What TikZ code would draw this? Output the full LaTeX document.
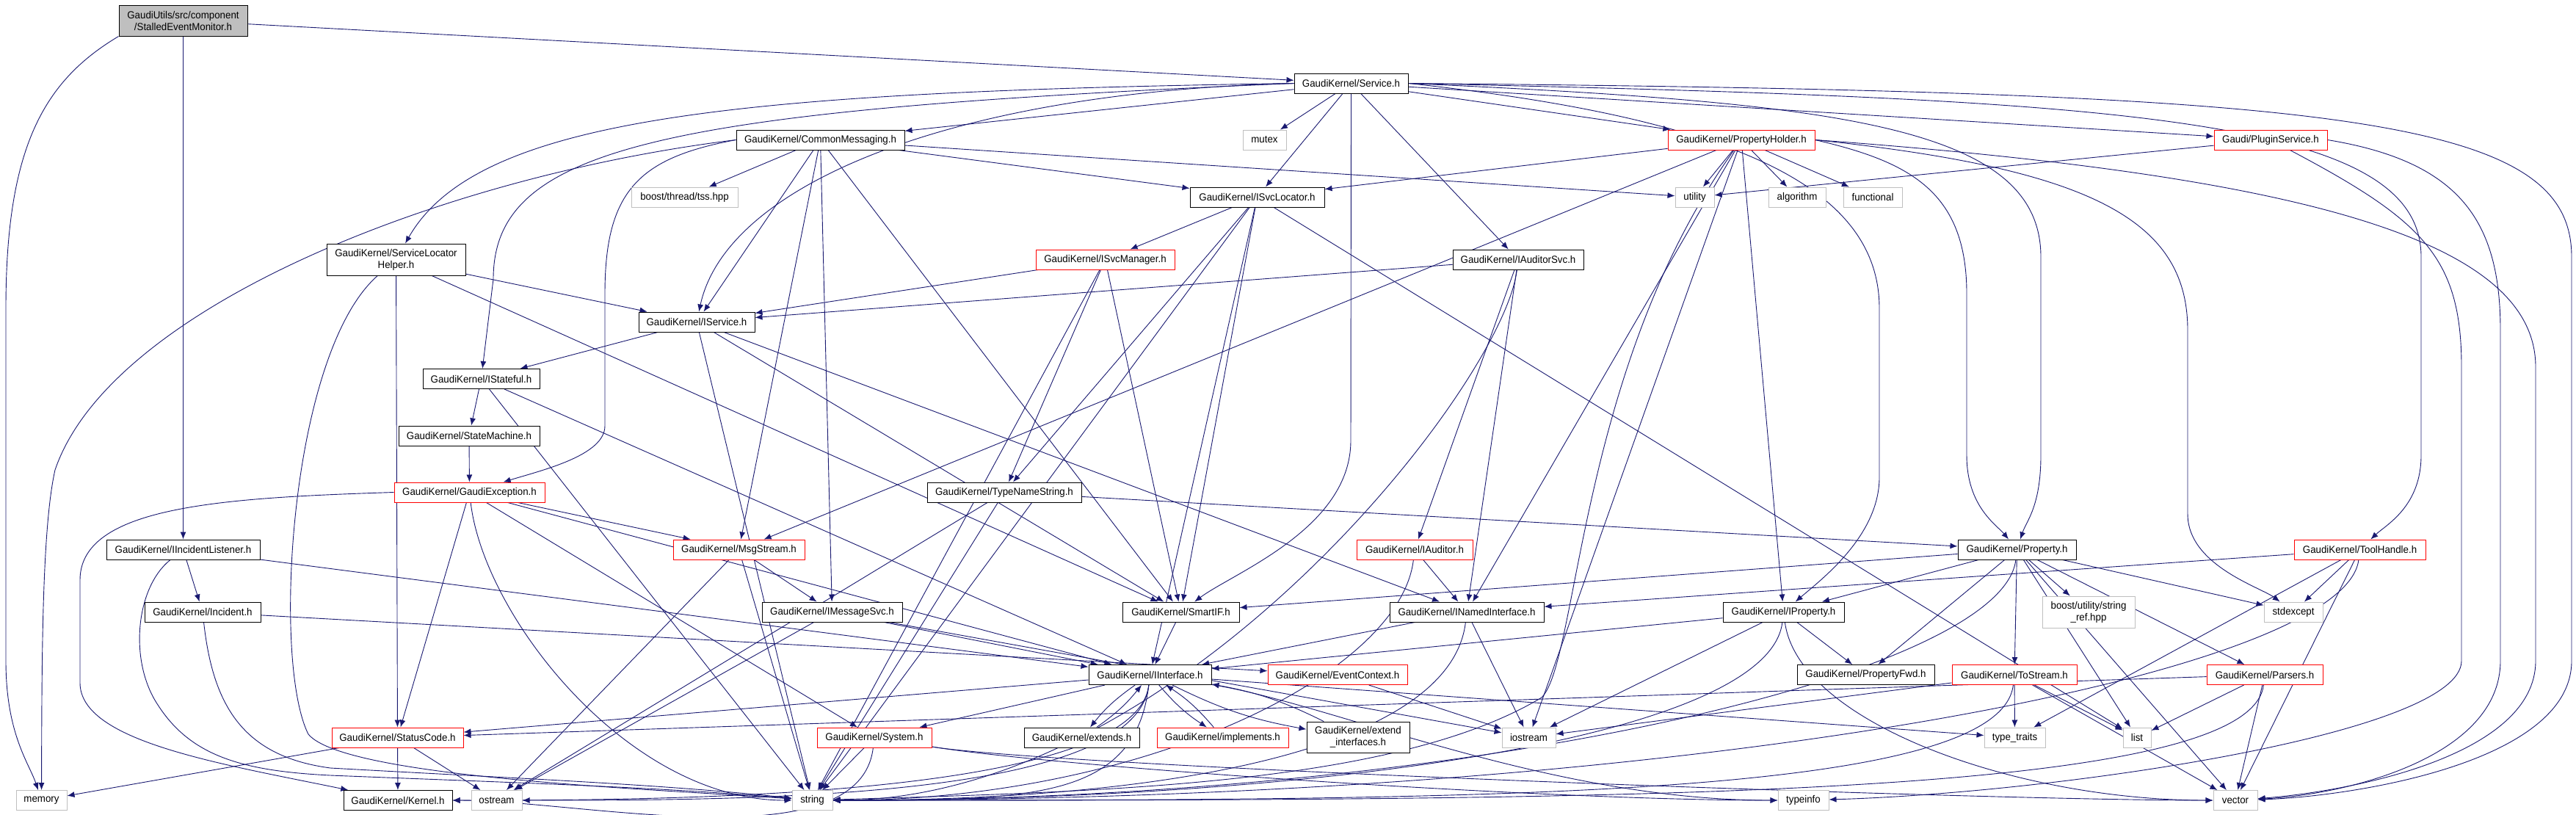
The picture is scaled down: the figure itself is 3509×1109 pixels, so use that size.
\documentclass[tikz,border=0pt]{standalone}
\usepackage{fontspec}
\newfontfamily\dgfont{Liberation Sans}[FakeStretch=0.95]
\usetikzlibrary{arrows.meta}
\definecolor{edgec}{HTML}{191970}
\definecolor{grayb}{HTML}{BFBFBF}
\pgfdeclarelayer{bg}
\pgfsetlayers{bg,main}
\newcommand\gn[6]{\node[#1, minimum width=#2pt, minimum height=#3pt] (#4) at (#5) {#6};}
% edge entering target from the right (#3 = horizontal pull), from the left, and along the bottom band
\newcommand\eR[3]{\draw[ed] (#1) .. controls +(-20,170) and +(#3,0) .. (#2);}
\newcommand\eL[3]{\draw[ed] (#1) .. controls +(20,170) and +(-#3,0) .. (#2);}
\newcommand\eB[2]{\draw[ed] (#1) .. controls +(250,40) and +(-350,0) .. (#2);}
\tikzset{
  box/.style={draw=black, line width=1pt, rectangle, inner sep=0pt, fill=white, align=center,
    font={\dgfont\fontsize{14}{16}\selectfont}},
  redbox/.style={box, draw=red},
  graybox/.style={box, draw=grayb},
  rootbox/.style={box, fill=grayb},
  ed/.style={draw=edgec, line width=0.9pt, -{Latex[length=10pt,width=8pt]}},
}
\begin{document}
\begin{tikzpicture}[x=1pt,y=-1pt]
\useasboundingbox (0,0) rectangle (3509,1109);
% nodes
\gn{rootbox}{175}{42}{root}{249.5,28}{GaudiUtils/src/component\\/StalledEventMonitor.h}
\gn{box}{155}{27}{service}{1840.5,113.5}{GaudiKernel/Service.h}
\gn{box}{229}{27}{commsg}{1117.5,190.5}{GaudiKernel/CommonMessaging.h}
\gn{graybox}{59}{27}{mutex}{1722.5,190.5}{mutex}
\gn{redbox}{200}{27}{propholder}{2372,190.5}{GaudiKernel/PropertyHolder.h}
\gn{redbox}{154}{27}{plugin}{3093,190.5}{Gaudi/PluginService.h}
\gn{graybox}{145}{27}{tss}{932.5,268.5}{boost/thread/tss.hpp}
\gn{box}{183}{27}{svcloc}{1712.5,268.5}{GaudiKernel/ISvcLocator.h}
\gn{graybox}{53}{27}{utility}{2308.5,268.5}{utility}
\gn{graybox}{78}{27}{algorithm}{2448,268.5}{algorithm}
\gn{graybox}{80}{27}{functional}{2551,268.5}{functional}
\gn{box}{189}{43}{slhelper}{539.5,353.5}{GaudiKernel/ServiceLocator\\Helper.h}
\gn{redbox}{189}{27}{svcmgr}{1505.5,353.5}{GaudiKernel/ISvcManager.h}
\gn{box}{178}{27}{auditorsvc}{2068,353.5}{GaudiKernel/IAuditorSvc.h}
\gn{box}{158}{27}{iservice}{949,438.5}{GaudiKernel/IService.h}
\gn{box}{159}{27}{istateful}{655.5,516}{GaudiKernel/IStateful.h}
\gn{box}{192}{27}{statemachine}{639,593.5}{GaudiKernel/StateMachine.h}
\gn{redbox}{205}{27}{gaudiexc}{639.5,670.5}{GaudiKernel/GaudiException.h}
\gn{box}{210}{27}{typename}{1368,670.5}{GaudiKernel/TypeNameString.h}
\gn{box}{209}{27}{incidentlistener}{249.5,748.5}{GaudiKernel/IIncidentListener.h}
\gn{redbox}{179}{27}{msgstream}{1006.5,748.5}{GaudiKernel/MsgStream.h}
\gn{redbox}{158}{27}{iauditor}{1927,748.5}{GaudiKernel/IAuditor.h}
\gn{box}{161}{27}{property}{2747.5,748.5}{GaudiKernel/Property.h}
\gn{redbox}{179}{27}{toolhandle}{3214.5,748.5}{GaudiKernel/ToolHandle.h}
\gn{box}{158}{27}{incident}{276,833.5}{GaudiKernel/Incident.h}
\gn{box}{191}{27}{imsgsvc}{1133.5,833.5}{GaudiKernel/IMessageSvc.h}
\gn{box}{159}{27}{smartif}{1608.5,833.5}{GaudiKernel/SmartIF.h}
\gn{box}{210}{27}{inamed}{1998,833.5}{GaudiKernel/INamedInterface.h}
\gn{box}{165}{27}{iproperty}{2429.5,833.5}{GaudiKernel/IProperty.h}
\gn{graybox}{126}{43}{stringref}{2845,833.5}{boost/utility/string\\\_ref.hpp}
\gn{graybox}{80}{27}{stdexcept}{3124,833.5}{stdexcept}
\gn{box}{167}{27}{iinterface}{1566.5,919}{GaudiKernel/IInterface.h}
\gn{redbox}{190}{27}{eventcontext}{1822,919}{GaudiKernel/EventContext.h}
\gn{box}{187}{27}{propfwd}{2541.5,919}{GaudiKernel/PropertyFwd.h}
\gn{redbox}{170}{27}{tostream}{2744,919}{GaudiKernel/ToStream.h}
\gn{redbox}{158}{27}{parsers}{3085,919}{GaudiKernel/Parsers.h}
\gn{redbox}{179}{27}{statuscode}{541.5,1004.5}{GaudiKernel/StatusCode.h}
\gn{redbox}{156}{27}{system}{1191,1004.5}{GaudiKernel/System.h}
\gn{box}{157}{27}{extends}{1473.5,1004.5}{GaudiKernel/extends.h}
\gn{redbox}{179}{27}{implements}{1665.5,1004.5}{GaudiKernel/implements.h}
\gn{box}{140}{42}{extendif}{1850,1004}{GaudiKernel/extend\\\_interfaces.h}
\gn{graybox}{73}{27}{iostream}{2082.5,1004.5}{iostream}
\gn{graybox}{83}{27}{typetraits}{2744.5,1004.5}{type\_traits}
\gn{graybox}{38}{27}{list}{2911,1004.5}{list}
\gn{graybox}{69}{27}{memory}{56.5,1090}{memory}
\gn{box}{148}{27}{kernel}{542,1090}{GaudiKernel/Kernel.h}
\gn{graybox}{69}{27}{ostream}{676.5,1090}{ostream}
\gn{graybox}{55}{27}{string}{1106.5,1090}{string}
\gn{graybox}{69}{27}{typeinfo}{2456.5,1090}{typeinfo}
\gn{graybox}{60}{27}{vector}{3045,1090}{vector}
% edges
\begin{pgfonlayer}{bg}
\draw[ed] (root) -- (service);
\draw[ed] (root) -- (incidentlistener);
\draw[ed] (root.south west) .. controls (60,110) and (8,200) .. (8,420) -- (8,900) .. controls (8,1000) and (40,1040) .. (memory);
% Service.h
\draw[ed] (service) -- (commsg);
\draw[ed] (service) -- (mutex);
\draw[ed] (service) -- (propholder);
\draw[ed] (service) -- (plugin);
\draw[ed] (service) -- (svcloc);
\draw[ed] (service) -- (auditorsvc);
\draw[ed] (service.west) .. controls (1300,125) and (990,250) .. (iservice);
\draw[ed] (service.west) .. controls (900,150) and (672,200) .. (672,380) -- (istateful);
\draw[ed] (service.west) .. controls (1000,125) and (650,160) .. (slhelper);
\draw[ed] (service.south) -- (1840,600) .. controls (1840,720) and (1680,780) .. (smartif);
\draw[ed] (service.east) .. controls (2500,140) and (2780,170) .. (2780,350) -- (2780,620) .. controls (2780,690) and (2760,710) .. (property);
\draw[ed] (service.east) .. controls (2350,160) and (2560,250) .. (2560,420) -- (2560,650) .. controls (2560,730) and (2480,790) .. (iproperty);
\draw[ed] (service.east) .. controls (2900,135) and (3298,160) .. (3298,350) -- (3298,620) .. controls (3298,690) and (3250,715) .. (toolhandle);
\draw[ed] (service.east) .. controls (3200,125) and (3503,160) .. (3503,350) -- (3503,900) .. controls (3503,1040) and (3200,1085) .. (vector);
% CommonMessaging.h
\draw[ed] (commsg) -- (tss);
\draw[ed] (commsg) -- (svcloc);
\draw[ed] (commsg) -- (utility);
\draw[ed] (commsg) -- (iservice);
\draw[ed] (commsg.west) .. controls (870,215) and (824,260) .. (824,400) -- (824,580) .. controls (824,620) and (740,640) .. (gaudiexc);
\draw[ed] (commsg.west) .. controls (600,240) and (150,420) .. (75,640) .. controls (57,720) and (57,900) .. (memory);
\draw[ed] (commsg) -- (msgstream);
\draw[ed] (commsg) -- (imsgsvc);
\draw[ed] (commsg) -- (smartif);
% PropertyHolder.h
\draw[ed] (propholder) -- (svcloc);
\draw[ed] (propholder) -- (utility);
\draw[ed] (propholder) -- (algorithm);
\draw[ed] (propholder) -- (functional);
\draw[ed] (propholder) -- (iproperty);
\draw[ed] (propholder.east) .. controls (2600,220) and (2679,260) .. (2679,400) -- (2679,620) .. controls (2679,690) and (2720,715) .. (property);
\draw[ed] (propholder.east) .. controls (2850,230) and (2980,300) .. (2980,450) -- (2980,700) .. controls (2980,770) and (3080,800) .. (stdexcept);
\draw[ed] (propholder) -- (msgstream);
\draw[ed] (propholder) .. controls (2150,500) and (2150,900) .. (2100,950) .. controls (1900,1070) and (1500,1078) .. (string);
\draw[ed] (propholder) -- (iostream);
\draw[ed] (propholder.east) .. controls (3150,240) and (3454,330) .. (3454,500) -- (3454,900) .. controls (3454,1030) and (3200,1078) .. (vector);
\draw[ed] (propholder) -- (inamed);
% PluginService.h
\draw[ed] (plugin) -- (utility);
\draw[ed] (plugin) .. controls (3300,300) and (3353,350) .. (3353,500) -- (3353,900) .. controls (3353,1000) and (2800,1080) .. (typeinfo);
\draw[ed] (plugin.east) .. controls (3350,220) and (3406,300) .. (3406,450) -- (3406,900) .. controls (3406,1030) and (3200,1082) .. (vector);
% ISvcLocator.h
\draw[ed] (svcloc) -- (svcmgr);
\draw[ed] (svcloc) -- (typename);
\draw[ed] (svcloc) -- (smartif);
\draw[ed] (svcloc) -- (iinterface);
\draw[ed] (svcloc) -- (string);
\draw[ed] (svcloc) -- (list);
% ServiceLocatorHelper.h
\draw[ed] (slhelper) -- (iservice);
\draw[ed] (slhelper) -- (smartif);
\draw[ed] (slhelper) -- (statuscode);
\draw[ed] (slhelper) .. controls (395,480) and (370,900) .. (420,1000) .. controls (470,1060) and (900,1075) .. (string);
% ISvcManager.h
\draw[ed] (svcmgr) -- (iservice);
\draw[ed] (svcmgr) -- (typename);
\draw[ed] (svcmgr) -- (smartif);
\draw[ed] (svcmgr) -- (string);
% IAuditorSvc.h
\draw[ed] (auditorsvc) -- (iservice);
\draw[ed] (auditorsvc) -- (iauditor);
\draw[ed] (auditorsvc) -- (inamed);
\eR{auditorsvc}{string}{500}
% IService.h
\draw[ed] (iservice) -- (istateful);
\draw[ed] (iservice) -- (inamed);
\draw[ed] (iservice) -- (smartif);
\draw[ed] (iservice) -- (string);
% IStateful.h, StateMachine.h
\draw[ed] (istateful) -- (statemachine);
\draw[ed] (istateful) -- (iinterface);
\draw[ed] (istateful) -- (string);
\draw[ed] (statemachine) -- (gaudiexc);
% GaudiException.h
\draw[ed] (gaudiexc.west) .. controls (300,678) and (109,690) .. (109,790) -- (109,930) .. controls (109,1010) and (300,1040) .. (kernel);
\draw[ed] (gaudiexc) -- (msgstream);
\draw[ed] (gaudiexc) -- (statuscode);
\eL{gaudiexc}{string}{250}
\draw[ed] (gaudiexc) -- (system);
\draw[ed] (gaudiexc) -- (iinterface);
% TypeNameString.h
\draw[ed] (typename) -- (property);
\draw[ed] (typename) -- (string);
\draw[ed] (typename) -- (ostream);
% IIncidentListener.h, Incident.h
\draw[ed] (incidentlistener) -- (incident);
\draw[ed] (incidentlistener) -- (iinterface);
\draw[ed] (incidentlistener) .. controls (185,800) and (175,900) .. (215,960) .. controls (260,1030) and (330,1050) .. (450,1056) .. controls (700,1066) and (900,1072) .. (string);
\draw[ed] (incident) -- (eventcontext);
\draw[ed] (incident) .. controls (290,960) and (330,1030) .. (450,1046) .. controls (700,1060) and (900,1068) .. (string);
% MsgStream.h, IMessageSvc.h
\draw[ed] (msgstream) -- (imsgsvc);
\draw[ed] (msgstream) -- (string);
\draw[ed] (msgstream) -- (ostream);
\draw[ed] (imsgsvc) -- (iinterface);
\draw[ed] (imsgsvc) -- (iostream);
\draw[ed] (imsgsvc) -- (ostream);
% IAuditor.h
\draw[ed] (iauditor) -- (inamed);
\eR{iauditor}{string}{450}
% Property.h
\draw[ed] (property) -- (iproperty);
\draw[ed] (property) -- (smartif);
\draw[ed] (property) -- (tostream);
\draw[ed] (property) -- (list);
\draw[ed] (property) -- (stringref);
\draw[ed] (property) -- (parsers);
\draw[ed] (property) -- (stdexcept);
\draw[ed] (property) -- (propfwd);
\eR{property}{string}{900}
\draw[ed] (property) -- (vector);
% IProperty.h
\draw[ed] (iproperty) -- (propfwd);
\draw[ed] (iproperty) -- (iinterface);
\draw[ed] (iproperty) -- (iostream);
\eR{iproperty}{string}{700}
\draw[ed] (iproperty) .. controls +(20,150) and +(-300,0) .. (vector);
% INamedInterface.h, EventContext.h
\draw[ed] (inamed) -- (iinterface);
\draw[ed] (inamed) -- (iostream);
\eR{inamed}{string}{550}
\draw[ed] (eventcontext) -- (iostream);
% ToStream.h, Parsers.h
\draw[ed] (tostream) -- (typetraits);
\draw[ed] (tostream) -- (list);
\draw[ed] (tostream) -- (vector);
\eR{tostream}{string}{900}
\draw[ed] (tostream) -- (iostream);
\draw[ed] (parsers) -- (list);
\draw[ed] (parsers) -- (vector);
\draw[ed] (parsers) -- (statuscode);
\eR{parsers}{string}{1100}
% ToolHandle.h
\draw[ed] (toolhandle) -- (inamed);
\draw[ed] (toolhandle) -- (stdexcept);
\draw[ed] (toolhandle) -- (typetraits);
\eR{toolhandle}{string}{1200}
\draw[ed] (toolhandle) -- (vector);
% SmartIF.h
\draw[ed] (smartif) -- (iinterface);
% IInterface.h
\draw[ed] (iinterface) -- (statuscode);
\draw[ed] (iinterface) -- (system);
\eR{iinterface}{kernel}{350}
\eR{iinterface}{ostream}{350}
\draw[ed] (iinterface) to[bend right=8] (extends);
\draw[ed] (iinterface) to[bend right=8] (implements);
\draw[ed] (iinterface) to[bend right=8] (extendif);
\eB{iinterface}{typeinfo}
\draw[ed] (iinterface) -- (typetraits);
\eR{iinterface}{string}{300}
\draw[ed] (extends) to[bend right=8] (iinterface);
\draw[ed] (implements) to[bend right=8] (iinterface);
\draw[ed] (extendif) to[bend right=8] (iinterface);
% StatusCode.h, System.h
\draw[ed] (statuscode) -- (memory);
\draw[ed] (statuscode) -- (kernel);
\draw[ed] (statuscode) -- (ostream);
\eR{system}{kernel}{250}
\draw[ed] (system) -- (string);
\eB{system}{typeinfo}
\eB{system}{vector}
\end{pgfonlayer}
\end{tikzpicture}
\end{document}
